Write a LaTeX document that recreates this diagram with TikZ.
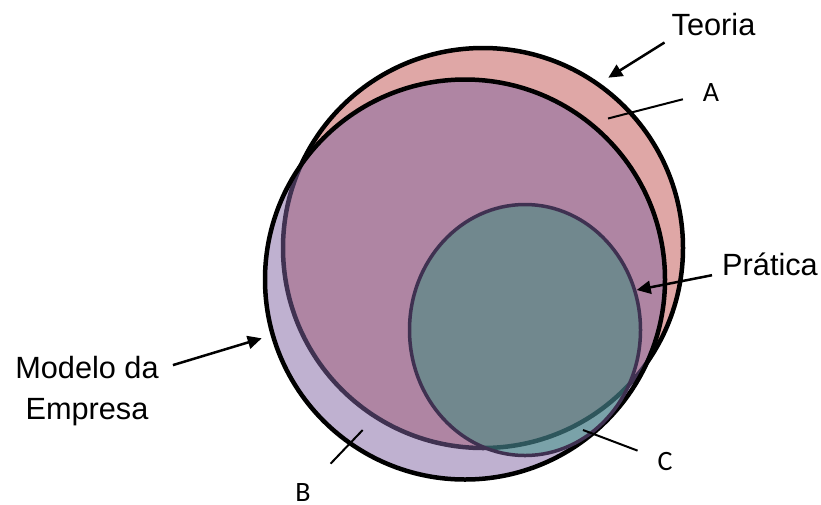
\documentclass[tikz,border=0pt]{standalone}
\usepackage{fontspec}
\setmainfont{Liberation Sans}
\newfontfamily\letterfont{Carlito}
\usetikzlibrary{arrows.meta}
\usepackage{xcolor}
\definecolor{teoriafill}{HTML}{C0504D}
\definecolor{modelofill}{HTML}{8064A2}
\definecolor{praticafill}{RGB}{20,140,110}
\definecolor{praticaline}{HTML}{3F3151}
\tikzset{
  venn set/.style={draw=black, line width=4.5pt, fill opacity=0.5},
  label text/.style={font=\fontsize{30.7}{41}\selectfont, text=black},
  letter/.style={font=\letterfont\fontsize{28}{32}\selectfont, inner sep=2pt, outer sep=18pt},
  pointer/.style={line width=2.5pt, -{Triangle[length=14pt,width=13pt]}},
  leader/.style={line width=2pt}
}

\begin{document}
\begin{tikzpicture}[x=1pt, y=-1pt]
\useasboundingbox (0,0) rectangle (821,504);
\clip (0,0) rectangle (821,504);
% the three sets
\draw [venn set, fill=teoriafill] (483,248) circle [radius=200pt];
\draw [venn set, fill=modelofill] (465,279.5) circle [radius=200pt];
\draw [venn set, draw=praticaline, line width=3.5pt, fill=praticafill, fill opacity=0.4]
  (525,330) ellipse [x radius=115.5pt, y radius=125.5pt];
% names
\node [label text, anchor=base, inner sep=7pt] (teoria) at (713.5,35) {Teoria};
\node [label text, anchor=base, inner sep=10pt] (pratica) at (770,275) {Prática};
\node [label text, align=center, inner sep=14pt] (modelo) at (87,391) {Modelo da\\Empresa};
\node [letter, anchor=base] (a) at (711,101) {A};
\node [letter, anchor=base] (b) at (303,501.5) {B};
\node [letter, anchor=base] (c) at (665,470) {C};
\coordinate (teoria tip) at (608.3,77.7);
\coordinate (pratica tip) at (636.7,290);
\coordinate (modelo tip) at (261.7,338.3);
\coordinate (a end) at (608,118.5);
\coordinate (b end) at (362.7,430);
\coordinate (c end) at (583,430);
\draw [pointer] (teoria.south west) -- (teoria tip);
\draw [pointer] (pratica) -- (pratica tip);
\draw [pointer] (modelo) -- (modelo tip);
\draw [leader] (a) -- (a end);
\draw [leader] (b) -- (b end);
\draw [leader] (c) -- (c end);
\end{tikzpicture}
\end{document}
